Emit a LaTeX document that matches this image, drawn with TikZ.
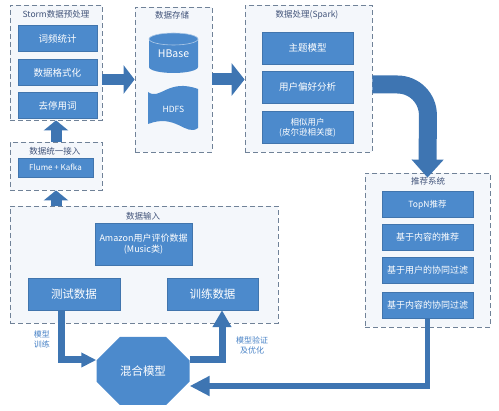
\documentclass[tikz,border=0pt]{standalone}
\usepackage{fontspec}
\setmainfont{Noto Sans CJK SC}
\usetikzlibrary{arrows.meta,shapes.misc,calc}
\definecolor{boxblue}{RGB}{76,138,204}
\definecolor{arrowblue}{RGB}{62,117,178}
\definecolor{panelline}{RGB}{112,130,152}
\definecolor{panelfill}{RGB}{244,247,251}
\definecolor{titleblue}{RGB}{66,84,122}
\definecolor{noteblue}{RGB}{72,130,198}
\begin{document}
\begin{tikzpicture}[x=1pt,y=1pt,
  panel/.style={draw=panelline, dash pattern=on 5pt off 3pt, line width=0.8pt, fill=panelfill, inner sep=0pt},
  ptitle/.style={text=titleblue, inner sep=1pt, font=\fontsize{8.5}{10}\selectfont},
  bluebox/.style={fill=boxblue, draw=boxblue!85!black, line width=0.4pt, text=white, align=center, inner sep=1pt, font=\fontsize{9}{11}\selectfont},
  flow/.style={draw=arrowblue, line width=#1},
  note/.style={text=noteblue, align=center, font=\fontsize{8}{10}\selectfont}]

\useasboundingbox (0,0) rectangle (499,-411);

\node[panel, minimum width=92pt, minimum height=115pt] (stormp) at (56,-62.5) {};
\node[panel, minimum width=92pt, minimum height=48pt] (flumep) at (56,-166) {};
\node[panel, minimum width=268pt, minimum height=117pt] (inputp) at (144,-264.5) {};
\node[panel, minimum width=77pt, minimum height=145pt] (storep) at (173.5,-79.5) {};
\node[panel, minimum width=127pt, minimum height=147pt] (sparkp) at (308.5,-78.5) {};
\node[panel, minimum width=125pt, minimum height=154pt] (tuijianp) at (427.5,-250) {};

\node[ptitle] (stormt) at (56,-14) {Storm数据预处理};
\node[ptitle] (flumet) at (55,-151) {数据统一接入};
\node[ptitle] (inputt) at (143,-216) {数据输入};
\node[ptitle] (storet) at (172,-15) {数据存储};
\node[ptitle] (sparkt) at (307,-15) {数据处理(Spark)};
\node[ptitle] (tuijiant) at (428,-181) {推荐系统};

\node[bluebox, minimum width=79pt, minimum height=26pt, font=\fontsize{9.5}{11}\selectfont] (cipin) at (57.5,-38.5) {词频统计};
\node[bluebox, minimum width=79pt, minimum height=26pt, font=\fontsize{9.5}{11}\selectfont] (geshi) at (57.5,-72.5) {数据格式化};
\node[bluebox, minimum width=79pt, minimum height=26pt, font=\fontsize{9.5}{11}\selectfont] (tingyong) at (57.5,-105.5) {去停用词};
\node[bluebox, minimum width=75pt, minimum height=19pt, font=\fontsize{8}{10}\selectfont] (flume) at (55.5,-167.5) {Flume + Kafka};

\node[bluebox, minimum width=97pt, minimum height=42pt] (amazon) at (143.5,-244) {Amazon用户评价数据\\(Music类)};
\node[bluebox, minimum width=92pt, minimum height=32pt, font=\fontsize{11.5}{13}\selectfont] (ceshi) at (74,-294) {测试数据};
\node[bluebox, minimum width=91pt, minimum height=32pt, font=\fontsize{11.5}{13}\selectfont] (xunlian) at (212.5,-294) {训练数据};

\node[bluebox, minimum width=91pt, minimum height=32pt, font=\fontsize{9.5}{11}\selectfont] (zhuti) at (307.5,-48) {主题模型};
\node[bluebox, minimum width=91pt, minimum height=32pt, font=\fontsize{9.5}{11}\selectfont] (pianhao) at (307.5,-87) {用户偏好分析};
\node[bluebox, minimum width=91pt, minimum height=32pt, font=\fontsize{8.5}{10.5}\selectfont] (xiangsi) at (307.5,-127.5) {相似用户\\(皮尔逊相关度)};

\node[bluebox, minimum width=91pt, minimum height=26pt, font=\fontsize{8.5}{10}\selectfont] (topn) at (427.5,-204.5) {TopN推荐};
\node[bluebox, minimum width=91pt, minimum height=26pt] (neirong) at (427.5,-237) {基于内容的推荐};
\node[bluebox, minimum width=91pt, minimum height=26pt] (yonghu) at (427.5,-270) {基于用户的协同过滤};
\node[bluebox, minimum width=91pt, minimum height=26pt] (xietong) at (427.5,-305) {基于内容的协同过滤};

\fill[boxblue] (149,-39) -- (149,-67) arc[start angle=180,end angle=360,x radius=24.5pt,y radius=6pt] -- (198,-39) arc[start angle=0,end angle=180,x radius=24.5pt,y radius=6pt] -- cycle;
\draw[white!55!boxblue, line width=0.6pt] (173.5,-39) ellipse [x radius=24.5pt, y radius=6pt];
\node[text=white, font=\fontsize{10.5}{12}\selectfont] (hbase) at (173.5,-54) {HBase};

\fill[boxblue] (148,-92) .. controls (160,-101) and (168,-78) .. (198,-89) -- (198,-128) .. controls (186,-137) and (176,-113) .. (148,-124) -- cycle;
\node[text=white, font=\fontsize{8.5}{10}\selectfont] (hdfs) at (173.5,-109) {HDFS};

\node[chamfered rectangle, chamfered rectangle xsep=18pt, chamfered rectangle ysep=18pt, fill=boxblue, text=white, minimum width=93pt, minimum height=68pt, inner sep=0pt, font=\fontsize{11.5}{13}\selectfont] (hunhe) at (143,-371) {混合模型};

\draw[flow=11pt, -{Triangle[width=28pt,length=11pt]}] (stormp.east |- storep) -- (storep.west);
\draw[flow=12pt, -{Triangle[width=32pt,length=13pt]}] (storep.east) -- (sparkp.west |- storep);
\draw[flow=11pt, -{Triangle[width=24pt,length=10pt]}] (flumep.north) -- (stormp.south);
\draw[flow=11pt, -{Triangle[width=24pt,length=10pt]}] (inputp.north -| flumep) -- (flumep.south);
\draw[flow=18pt, -{Triangle[width=31pt,length=18pt]}] ([yshift=-6pt]sparkp.east) -- ++(25,0) arc[start angle=90,end angle=0,radius=30.5pt] -- ([yshift=-5pt]tuijianp.north);

\draw[flow=7pt, -{Triangle[width=14pt,length=15pt]}] ([xshift=-12.5pt]ceshi.south) |- ([yshift=11pt]hunhe.west);
\draw[flow=7pt, -{Triangle[width=18pt,length=17pt]}] ([yshift=11pt]hunhe.east) -| ([xshift=9.5pt]xunlian.south);
\draw[flow=5.5pt, -{Triangle[width=19pt,length=20pt]}] (xietong.south) |- ([yshift=-15pt]hunhe.east);

\node[note] (xunlianlbl) at (42,-339) {模型\\训练};
\node[note] (youhualbl) at (252,-345) {模型验证\\及优化};

\end{tikzpicture}
\end{document}
